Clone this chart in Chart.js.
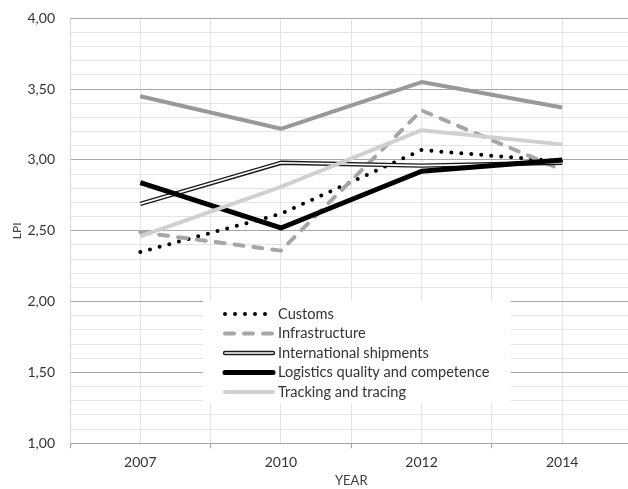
<!DOCTYPE html>
<html>
<head>
<meta charset="utf-8">
<script src="https://cdn.jsdelivr.net/npm/chart.js@4/dist/chart.umd.min.js"></script>
<style>
  html, body { margin: 0; padding: 0; background: #fff; overflow: hidden; width: 628px; height: 489px; }
  #wrap { width: 640px; height: 489px; }
</style>
</head>
<body>
<div id="wrap"><canvas id="c" width="640" height="489"></canvas></div>
<script>
// ---- data ----
const categories = ['2007', '2010', '2012', '2014'];
const customs = [2.35, 2.62, 3.07, 2.99];
const infrastructure = [2.49, 2.36, 3.35, 2.93];
const internationalShipments = [2.69, 2.98, 2.96, 2.98];
const logisticsQuality = [2.84, 2.52, 2.92, 3.00];
const trackingTracing = [2.46, 2.81, 3.21, 3.11];
const timeliness = [3.45, 3.22, 3.55, 3.37];
const legendLabels = ['Customs', 'Infrastructure', 'International shipments', 'Logistics quality and competence', 'Tracking and tracing'];
const yTickMin = 1, yTickMax = 4;

const pts = arr => arr.map((v, i) => ({ x: i, y: v }));
const FONT = 'Lato';

const datasets = [
  { label: 'Timeliness', data: pts(timeliness), borderColor: '#999999', borderWidth: 4, order: 1 },
  { label: legendLabels[4], data: pts(trackingTracing), borderColor: '#d0d0d0', borderWidth: 4, order: 2 },
  { label: legendLabels[3], data: pts(logisticsQuality), borderColor: '#000000', borderWidth: 5, order: 3 },
  { label: legendLabels[2] + ' inner', data: pts(internationalShipments), borderColor: '#ffffff', borderWidth: 1.6, order: 4 },
  { label: legendLabels[2], data: pts(internationalShipments), borderColor: '#1a1a1a', borderWidth: 4.4, order: 5 },
  { label: legendLabels[1], data: pts(infrastructure), borderColor: '#a6a6a6', borderWidth: 4, borderDash: [9, 10], borderCapStyle: 'round', order: 6 },
  { label: legendLabels[0], data: pts(customs), borderColor: '#000000', borderWidth: 4, borderDash: [0, 10], borderCapStyle: 'round', order: 7 }
].map(d => Object.assign({ pointRadius: 0, tension: 0, fill: false, borderJoinStyle: 'round' }, d));

const isMajor = v => Math.abs(v * 2 - Math.round(v * 2)) < 1e-6;
const isInt = v => Math.abs(v - Math.round(v)) < 1e-6;

const legendPlugin = {
  id: 'customLegend',
  afterDatasetsDraw(chart) {
    const ctx = chart.ctx;
    ctx.save();
    ctx.fillStyle = '#ffffff';
    ctx.fillRect(203, 301, 308, 102);
    const entries = [
      [6], [5], [4, 3], [2], [1]
    ];
    const x0 = 225, x1 = 273, y0 = 314, dy = 19.5;
    entries.forEach((idxs, r) => {
      const y = y0 + r * dy;
      idxs.forEach(di => {
        const ds = chart.data.datasets[di];
        ctx.beginPath();
        ctx.strokeStyle = ds.borderColor;
        ctx.lineWidth = ds.borderWidth;
        ctx.lineCap = 'round';
        ctx.setLineDash(ds.borderDash || []);
        ctx.moveTo(x0, y);
        ctx.lineTo(x1, y);
        ctx.stroke();
      });
      ctx.setLineDash([]);
      ctx.fillStyle = '#333333';
      ctx.font = '14.6px ' + FONT;
      ctx.textBaseline = 'middle';
      ctx.textAlign = 'left';
      ctx.fillText(chart.data.datasets[idxs[0]].label, 278, y);
    });
    ctx.restore();
  }
};

new Chart(document.getElementById('c'), {
  type: 'line',
  data: { datasets },
  options: {
    responsive: false,
    animation: false,
    layout: { padding: { left: 0, top: 18.3, right: 7.5, bottom: 0 } },
    plugins: { legend: { display: false }, tooltip: { enabled: false } },
    scales: {
      x: {
        type: 'linear',
        min: -0.5, max: 3.5,
        afterFit: s => { s.height = 45.7; s.paddingLeft = 0; s.paddingRight = 0; },
        ticks: {
          stepSize: 0.5, autoSkip: false, maxRotation: 0, padding: 6,
          color: '#333333', font: { family: FONT, size: 14 },
          callback: v => isInt(v) ? categories[Math.round(v)] : ''
        },
        grid: {
          color: '#e3e3e3', lineWidth: 1, tickLength: 5,
          tickColor: c => isInt(c.tick.value) ? 'rgba(0,0,0,0)' : '#a6a6a6'
        },
        border: { color: '#a6a6a6' },
        title: { display: true, text: 'YEAR', color: '#404040', font: { family: FONT, size: 13 }, padding: { top: 0, bottom: 0 } }
      },
      y: {
        min: yTickMin, max: yTickMax,
        afterFit: s => { s.width = 70; s.paddingTop = 0; s.paddingBottom = 0; },
        ticks: {
          stepSize: 0.1, autoSkip: false, padding: 15,
          color: '#333333', font: { family: FONT, size: 14 },
          callback: v => isMajor(v) ? v.toFixed(2).replace('.', ',') : ''
        },
        grid: {
          drawTicks: false,
          color: c => isMajor(c.tick.value) ? '#a6a6a6' : '#e3e3e3'
        },
        border: { color: '#d9d9d9' },
        title: { display: true, text: 'LPI', color: '#404040', font: { family: FONT, size: 12 }, padding: { top: 10, bottom: 0 } }
      }
    }
  },
  plugins: [legendPlugin]
});
</script>
</body>
</html>
